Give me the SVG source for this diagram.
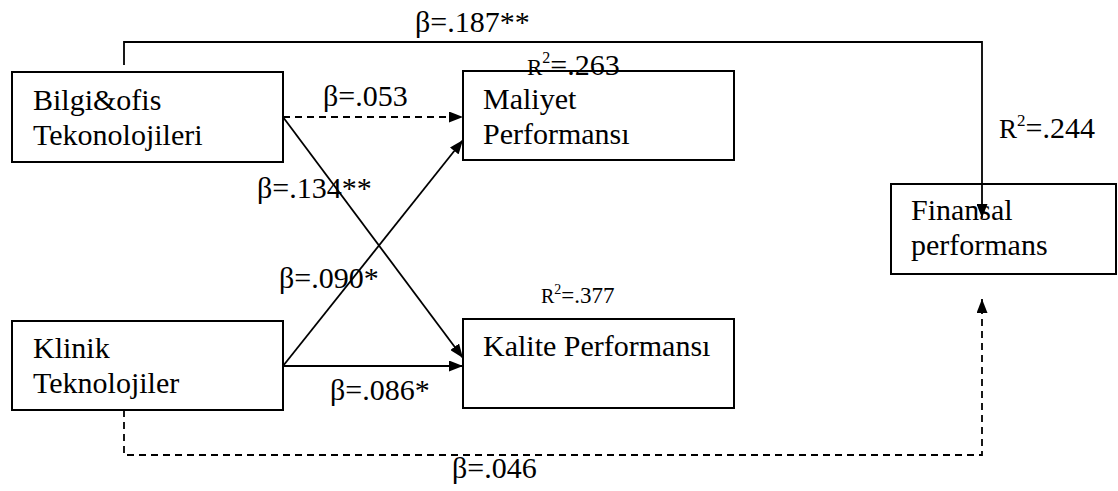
<svg xmlns="http://www.w3.org/2000/svg" width="1118" height="491" viewBox="0 0 1118 491">
  <style>
    .box { fill: #ffffff; stroke: #000000; stroke-width: 2; }
    text { font-family: 'Liberation Serif', 'DejaVu Serif', serif; fill: #000000; }
    .lbl { font-size: 30px; }
    .coef { font-size: 30px; }
    .line { fill: none; stroke: #000000; stroke-width: 1.8; }
    .dash { stroke-dasharray: 7 5; }
  </style>
  <defs>
    <marker id="arrow" viewBox="0 0 14 11" refX="14" refY="5.5" markerWidth="14" markerHeight="11" markerUnits="userSpaceOnUse" orient="auto">
      <path d="M0,0 L14,5.5 L0,11 Z" fill="#000000"/>
    </marker>
  </defs>

  <!-- nodes -->
  <g id="bilgi-ofis">
    <rect class="box" x="12" y="72" width="271" height="90"/>
    <text class="lbl" x="33" y="110">Bilgi&amp;ofis</text>
    <text class="lbl" x="33" y="145">Tekonolojileri</text>
  </g>
  <g id="klinik">
    <rect class="box" x="12" y="321" width="271" height="89"/>
    <text class="lbl" x="33" y="358">Klinik</text>
    <text class="lbl" x="33" y="393">Teknolojiler</text>
  </g>
  <g id="maliyet">
    <rect class="box" x="463" y="71" width="271" height="89"/>
    <text class="lbl" x="483" y="109">Maliyet</text>
    <text class="lbl" x="483" y="144">Performansı</text>
  </g>
  <g id="kalite">
    <rect class="box" x="463" y="319" width="271" height="89"/>
    <text class="lbl" x="483" y="356">Kalite Performansı</text>
  </g>
  <g id="finansal">
    <rect class="box" x="891" y="184" width="225" height="90"/>
    <text class="lbl" x="911" y="220">Finansal</text>
    <text class="lbl" x="911" y="255">performans</text>
  </g>

  <!-- connectors -->
  <g id="connectors">
    <polyline class="line" points="124,65 124,42 982,42 982,218" marker-end="url(#arrow)"/>
    <line class="line dash" x1="283" y1="117" x2="463" y2="117" marker-end="url(#arrow)"/>
    <line class="line" x1="283" y1="117" x2="463" y2="358" marker-end="url(#arrow)"/>
    <line class="line" x1="283" y1="366" x2="463" y2="140" marker-end="url(#arrow)"/>
    <line class="line" x1="283" y1="366" x2="463" y2="366" marker-end="url(#arrow)"/>
    <polyline class="line dash" points="124,410 124,455 982,455 982,299" marker-end="url(#arrow)"/>
  </g>

  <!-- path coefficients and R-squared values -->
  <g id="labels">
    <text class="coef" x="415" y="32">β=.187**</text>
    <text class="coef" x="527" y="75"><tspan font-size="23">R</tspan><tspan font-size="16" dy="-12">2</tspan><tspan dy="12">=.263</tspan></text>
    <text class="coef" x="999" y="138"><tspan font-size="27">R</tspan><tspan font-size="17" dy="-12">2</tspan><tspan dy="12">=.244</tspan></text>
    <text class="coef" x="323" y="106">β=.053</text>
    <text class="coef" x="257" y="198">β=.134**</text>
    <text class="coef" x="279" y="288">β=.090*</text>
    <text class="coef" x="541" y="303"><tspan font-size="20">R</tspan><tspan font-size="14" dy="-9">2</tspan><tspan font-size="23" dy="9">=.377</tspan></text>
    <text class="coef" x="330" y="400">β=.086*</text>
    <text class="coef" x="452" y="478">β=.046</text>
  </g>
</svg>
